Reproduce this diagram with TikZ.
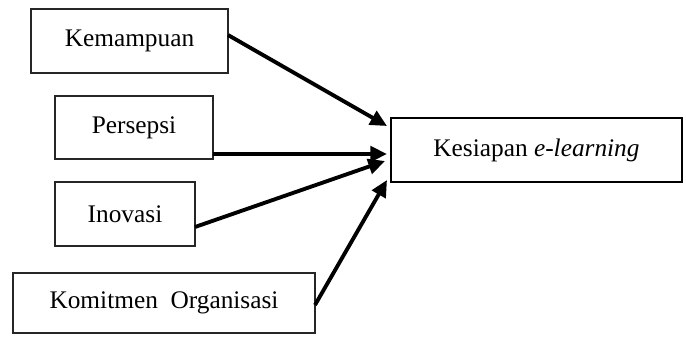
\documentclass[tikz,border=0pt]{standalone}
\usepackage{fontspec}
\setmainfont{Liberation Serif}
\usetikzlibrary{arrows.meta,calc}
\begin{document}
\begin{tikzpicture}[x=0.75pt,y=-0.75pt,
  box/.style={draw=black!85,line width=0.8pt,inner sep=0pt,outer sep=0pt,
    font=\fontsize{19}{22}\selectfont,anchor=center},
  mainbox/.style={box,draw=black,line width=1.2pt},
  conn/.style={line width=2.9pt,-{Triangle[length=12.5pt,width=11.5pt]}}]
\useasboundingbox (0,0) rectangle (686,336);
\node[box,minimum width=197*0.75pt,minimum height=64*0.75pt] (kem) at (129.5,41) {Kemampuan};
\node[box,minimum width=158*0.75pt,minimum height=63*0.75pt] (per) at (134,127.5) {Persepsi};
\node[box,minimum width=140*0.75pt,minimum height=64*0.75pt] (ino) at (125,214) {Inovasi};
\node[box,minimum width=302*0.75pt,minimum height=60*0.75pt] (kom) at (164,303) {Komitmen\hspace{0.5em}Organisasi};
\node[mainbox,minimum width=291*0.75pt,minimum height=64*0.75pt] (kes) at (536.5,150) {\raisebox{3.5pt}{Kesiapan \textit{e-learning}}};
\coordinate (t1) at ($(kes.north west)+(-4,8)$);
\coordinate (t2) at ($(kes.north west)+(-4,36)$);
\coordinate (t3) at ($(kes.north west)+(-6,43)$);
\coordinate (t4) at ($(kes.north west)+(-4,62)$);
\draw[conn] ($(kem.north east)+(0,26)$) -- (t1);
\draw[conn] ($(per.north east)+(0,58)$) -- (t2);
\draw[conn] ($(ino.north east)+(0,45)$) -- (t3);
\draw[conn] ($(kom.north east)+(0,32)$) -- (t4);
\end{tikzpicture}
\end{document}
